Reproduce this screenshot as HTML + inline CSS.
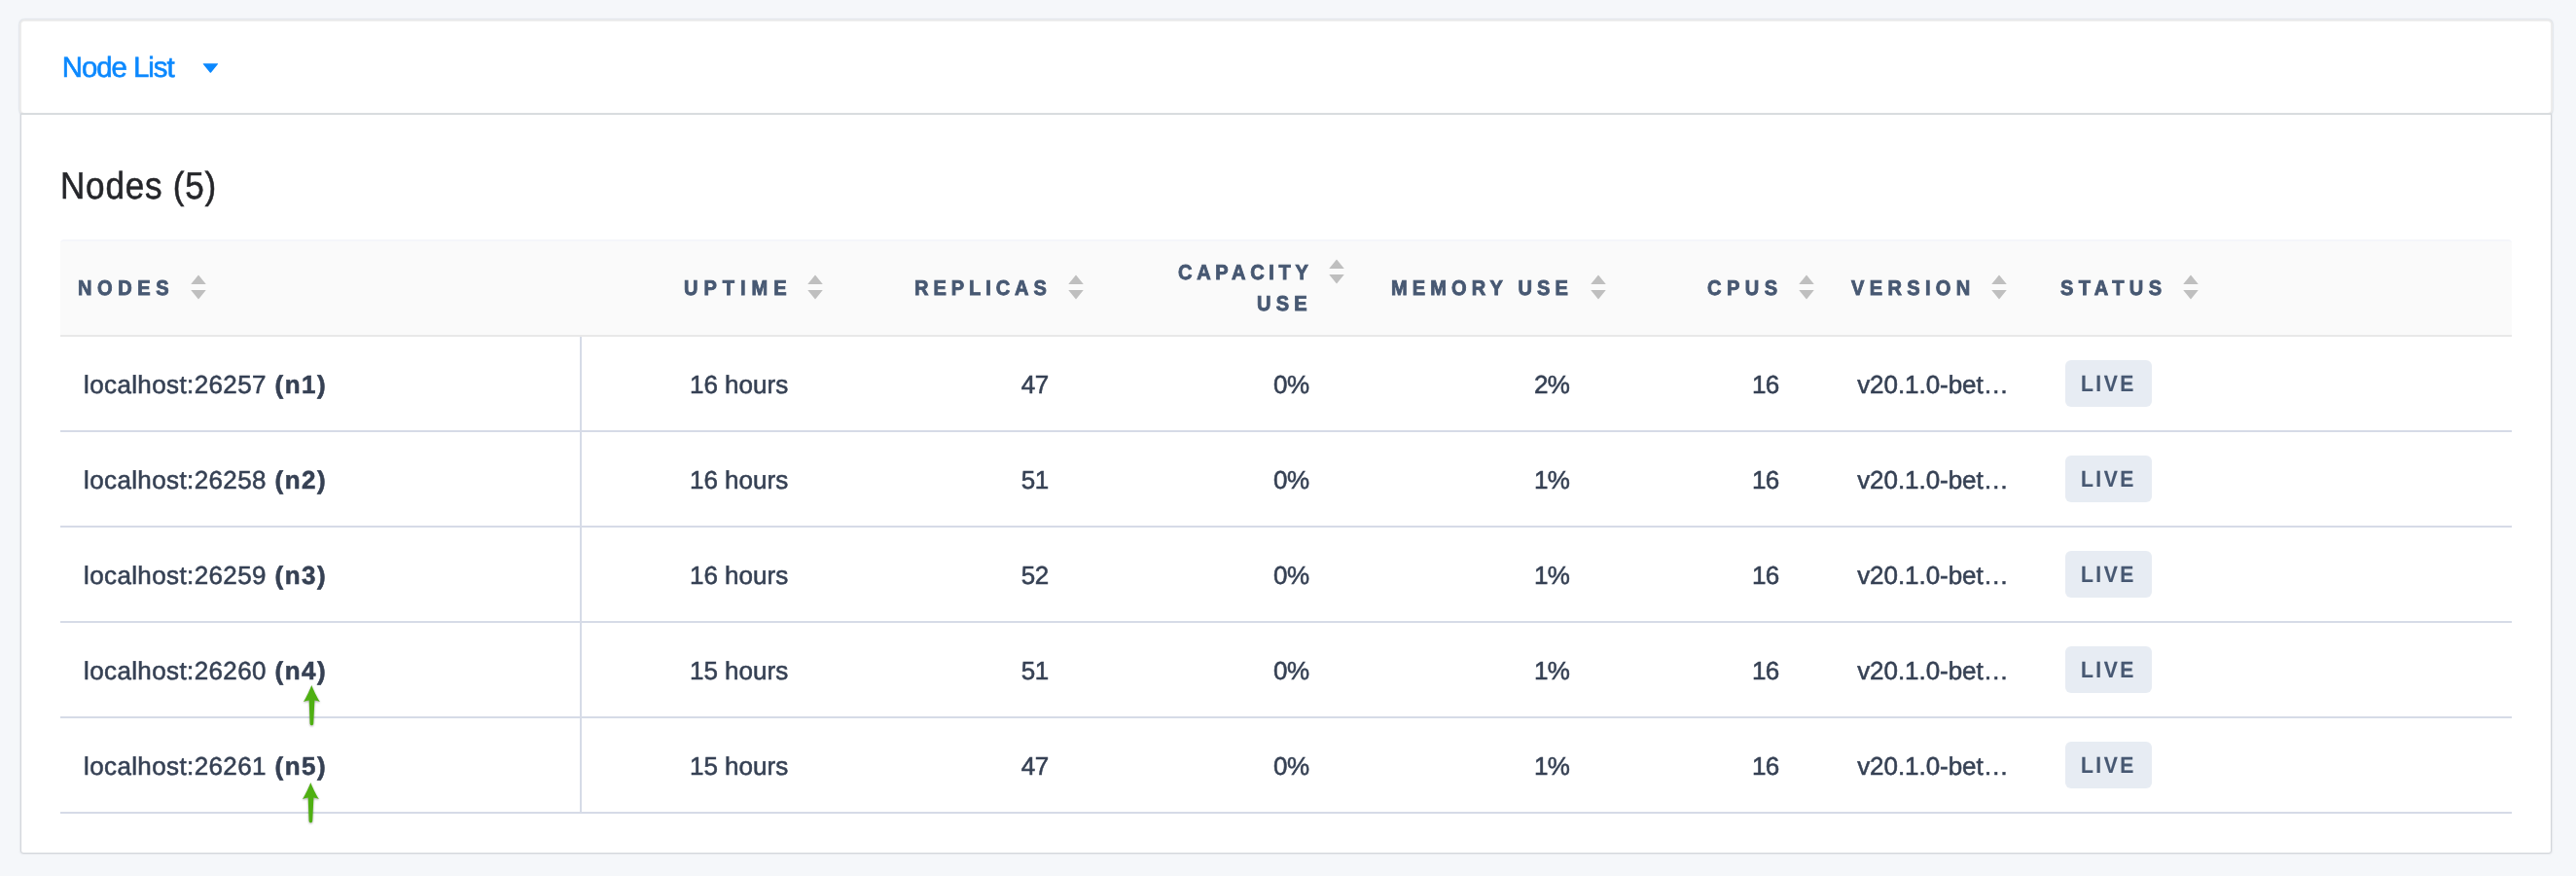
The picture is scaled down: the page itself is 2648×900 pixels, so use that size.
<!DOCTYPE html>
<html>
<head>
<meta charset="utf-8">
<title>Node List</title>
<style>
html,body{margin:0;padding:0;}
body{width:2648px;height:900px;background:#f5f7fa;position:relative;overflow:hidden;
  font-family:"Liberation Sans",sans-serif;}
.abs{position:absolute;white-space:nowrap;}
#wrap{position:absolute;left:0;top:0;width:2648px;height:900px;will-change:transform;text-rendering:geometricPrecision;}
#card1{position:absolute;left:20px;top:20px;width:2600px;height:94px;background:#fff;
  border:2px solid #ececec;border-radius:5px;box-shadow:0 0 2px 0 rgba(67,90,111,0.33);}
#card2{position:absolute;left:22px;top:118px;width:2600px;height:758px;background:#fff;
  border-radius:0 0 2px 2px;box-shadow:0 0 2px 1px rgba(75,82,92,0.27);}
#sep{position:absolute;left:22px;top:116px;width:2600px;height:2px;background:#d9dcdf;}
#nodelist{top:53px;font-size:29.4px;line-height:34px;color:#0b88fe;-webkit-text-stroke:0.6px #0b88fe;}
#title{top:170px;font-size:39px;line-height:44px;color:#25262a;-webkit-text-stroke:0.55px #25262a;transform:scaleX(0.9);transform-origin:0 50%;}
#thead{position:absolute;left:62px;top:246px;width:2520px;height:98px;background:#fafafa;
  border-top:2px solid #f5f6fa;box-sizing:border-box;border-radius:4px 4px 0 0;}
.hline{position:absolute;left:62px;width:2520px;height:2px;background:#d6dbe7;}
#hl0{top:344px;background:#e8e8e8;}
#vline{position:absolute;left:596px;top:346px;width:2px;height:490px;background:#d6dbe7;}
.th{font-weight:bold;font-size:22.0px;line-height:32px;color:#475872;-webkit-text-stroke:0.9px #475872;transform:scale(0.91,0.975);transform-origin:0 0;}
.td{font-size:26px;line-height:32px;color:#364154;-webkit-text-stroke:0.55px #364154;}
.td b{font-weight:bold;}
.live{font-size:23.4px;-webkit-text-stroke:0.15px #475872;transform:scaleX(0.9);transform-origin:0 50%;}
.badge{position:absolute;left:2123px;width:89px;height:48px;background:#e7ecf3;border-radius:6px;}
.sort{position:absolute;width:16px;height:25px;overflow:visible;}
.arrow{position:absolute;width:32px;height:52px;overflow:visible;filter:drop-shadow(0.5px 1px 0.8px rgba(0,0,0,0.35));}
</style>
</head>
<body>
<div id="wrap">
<div id="card1"></div>
<div id="card2"></div>
<div id="sep"></div>

<div id="nodelist" class="abs" style="left:63.83px;letter-spacing:-1.04px">Node List</div>
<svg class="abs" style="left:208px;top:65px" width="17" height="11" viewBox="0 0 17 11"><path d="M1.2 0.3 H15.6 Q16.6 0.3 15.9 1.1 L9 9.5 Q8.4 10.2 7.8 9.5 L0.9 1.1 Q0.2 0.3 1.2 0.3 Z" fill="#0b88fe"/></svg>

<div id="title" class="abs" style="left:62.00px;letter-spacing:0.84px">Nodes (5)</div>

<div id="thead"></div>
<div class="hline" id="hl0"></div>
<div class="hline" style="top:442px"></div>
<div class="hline" style="top:540px"></div>
<div class="hline" style="top:638px"></div>
<div class="hline" style="top:736px"></div>
<div class="hline" style="top:834px"></div>
<div id="vline"></div>

<!-- header -->
<div class="abs th" id="h_nodes" style="top:281px;left:80.00px;letter-spacing:6.13px">NODES</div>
<div class="abs th" id="h_uptime" style="top:281px;left:703.00px;letter-spacing:6.58px">UPTIME</div>
<div class="abs th" id="h_replicas" style="top:281px;left:940.00px;letter-spacing:5.44px">REPLICAS</div>
<div class="abs th" id="h_cap1" style="top:265px;left:1211.00px;letter-spacing:5.19px">CAPACITY</div>
<div class="abs th" id="h_cap2" style="top:297px;left:1292.00px;letter-spacing:5.80px">USE</div>
<div class="abs th" id="h_mem" style="top:281px;left:1430.00px;letter-spacing:5.63px">MEMORY USE</div>
<div class="abs th" id="h_cpus" style="top:281px;left:1755.00px;letter-spacing:6.06px">CPUS</div>
<div class="abs th" id="h_version" style="top:281px;left:1903.00px;letter-spacing:5.88px">VERSION</div>
<div class="abs th" id="h_status" style="top:281px;left:2118.00px;letter-spacing:5.92px">STATUS</div>

<svg class="sort" style="left:196px;top:283px" viewBox="0 0 16 25"><path d="M8 -0.5 L15.8 9 H0.2 Z M0.2 15.1 H15.8 L8 24.6 Z" fill="#bfbfbf"/></svg>
<svg class="sort" style="left:830px;top:283px" viewBox="0 0 16 25"><path d="M8 -0.5 L15.8 9 H0.2 Z M0.2 15.1 H15.8 L8 24.6 Z" fill="#bfbfbf"/></svg>
<svg class="sort" style="left:1098px;top:283px" viewBox="0 0 16 25"><path d="M8 -0.5 L15.8 9 H0.2 Z M0.2 15.1 H15.8 L8 24.6 Z" fill="#bfbfbf"/></svg>
<svg class="sort" style="left:1366px;top:267px" viewBox="0 0 16 25"><path d="M8 -0.5 L15.8 9 H0.2 Z M0.2 15.1 H15.8 L8 24.6 Z" fill="#bfbfbf"/></svg>
<svg class="sort" style="left:1635px;top:283px" viewBox="0 0 16 25"><path d="M8 -0.5 L15.8 9 H0.2 Z M0.2 15.1 H15.8 L8 24.6 Z" fill="#bfbfbf"/></svg>
<svg class="sort" style="left:1849px;top:283px" viewBox="0 0 16 25"><path d="M8 -0.5 L15.8 9 H0.2 Z M0.2 15.1 H15.8 L8 24.6 Z" fill="#bfbfbf"/></svg>
<svg class="sort" style="left:2047px;top:283px" viewBox="0 0 16 25"><path d="M8 -0.5 L15.8 9 H0.2 Z M0.2 15.1 H15.8 L8 24.6 Z" fill="#bfbfbf"/></svg>
<svg class="sort" style="left:2244px;top:283px" viewBox="0 0 16 25"><path d="M8 -0.5 L15.8 9 H0.2 Z M0.2 15.1 H15.8 L8 24.6 Z" fill="#bfbfbf"/></svg>

<!-- rows -->
<div class="abs td" id="r0_node" style="top:379px;left:86.00px;letter-spacing:0.38px">localhost:26257 <b style="letter-spacing:1.50px;margin-left:1.10px">(n1)</b></div>
<div class="abs td" id="r0_up" style="top:379px;left:708.94px;letter-spacing:0.01px">16 hours</div>
<div class="abs td" id="r0_rep" style="top:379px;left:1049.76px;letter-spacing:-0.39px">47</div>
<div class="abs td" id="r0_cap" style="top:379px;left:1308.96px;letter-spacing:-0.49px">0%</div>
<div class="abs td" id="r0_mem" style="top:379px;left:1576.99px;letter-spacing:-0.58px">2%</div>
<div class="abs td" id="r0_cpu" style="top:379px;left:1800.94px;letter-spacing:-0.72px">16</div>
<div class="abs td" id="r0_ver" style="top:379px;left:1909.17px;letter-spacing:-0.05px">v20.1.0-bet&hellip;</div>
<div class="badge" style="top:370px"></div>
<div class="abs th live" id="r0_live" style="top:378px;left:2139.00px;letter-spacing:2.77px">LIVE</div>
<div class="abs td" id="r1_node" style="top:477px;left:86.00px;letter-spacing:0.38px">localhost:26258 <b style="letter-spacing:1.50px;margin-left:1.10px">(n2)</b></div>
<div class="abs td" id="r1_up" style="top:477px;left:708.94px;letter-spacing:0.01px">16 hours</div>
<div class="abs td" id="r1_rep" style="top:477px;left:1049.76px;letter-spacing:-0.39px">51</div>
<div class="abs td" id="r1_cap" style="top:477px;left:1308.96px;letter-spacing:-0.49px">0%</div>
<div class="abs td" id="r1_mem" style="top:477px;left:1576.99px;letter-spacing:-0.58px">1%</div>
<div class="abs td" id="r1_cpu" style="top:477px;left:1800.94px;letter-spacing:-0.72px">16</div>
<div class="abs td" id="r1_ver" style="top:477px;left:1909.17px;letter-spacing:-0.05px">v20.1.0-bet&hellip;</div>
<div class="badge" style="top:468px"></div>
<div class="abs th live" id="r1_live" style="top:476px;left:2139.00px;letter-spacing:2.77px">LIVE</div>
<div class="abs td" id="r2_node" style="top:575px;left:86.00px;letter-spacing:0.38px">localhost:26259 <b style="letter-spacing:1.50px;margin-left:1.10px">(n3)</b></div>
<div class="abs td" id="r2_up" style="top:575px;left:708.94px;letter-spacing:0.01px">16 hours</div>
<div class="abs td" id="r2_rep" style="top:575px;left:1049.76px;letter-spacing:-0.39px">52</div>
<div class="abs td" id="r2_cap" style="top:575px;left:1308.96px;letter-spacing:-0.49px">0%</div>
<div class="abs td" id="r2_mem" style="top:575px;left:1576.99px;letter-spacing:-0.58px">1%</div>
<div class="abs td" id="r2_cpu" style="top:575px;left:1800.94px;letter-spacing:-0.72px">16</div>
<div class="abs td" id="r2_ver" style="top:575px;left:1909.17px;letter-spacing:-0.05px">v20.1.0-bet&hellip;</div>
<div class="badge" style="top:566px"></div>
<div class="abs th live" id="r2_live" style="top:574px;left:2139.00px;letter-spacing:2.77px">LIVE</div>
<div class="abs td" id="r3_node" style="top:673px;left:86.00px;letter-spacing:0.38px">localhost:26260 <b style="letter-spacing:1.50px;margin-left:1.10px">(n4)</b></div>
<div class="abs td" id="r3_up" style="top:673px;left:708.94px;letter-spacing:0.01px">15 hours</div>
<div class="abs td" id="r3_rep" style="top:673px;left:1049.76px;letter-spacing:-0.39px">51</div>
<div class="abs td" id="r3_cap" style="top:673px;left:1308.96px;letter-spacing:-0.49px">0%</div>
<div class="abs td" id="r3_mem" style="top:673px;left:1576.99px;letter-spacing:-0.58px">1%</div>
<div class="abs td" id="r3_cpu" style="top:673px;left:1800.94px;letter-spacing:-0.72px">16</div>
<div class="abs td" id="r3_ver" style="top:673px;left:1909.17px;letter-spacing:-0.05px">v20.1.0-bet&hellip;</div>
<div class="badge" style="top:664px"></div>
<div class="abs th live" id="r3_live" style="top:672px;left:2139.00px;letter-spacing:2.77px">LIVE</div>
<div class="abs td" id="r4_node" style="top:771px;left:86.00px;letter-spacing:0.38px">localhost:26261 <b style="letter-spacing:1.50px;margin-left:1.10px">(n5)</b></div>
<div class="abs td" id="r4_up" style="top:771px;left:708.94px;letter-spacing:0.01px">15 hours</div>
<div class="abs td" id="r4_rep" style="top:771px;left:1049.76px;letter-spacing:-0.39px">47</div>
<div class="abs td" id="r4_cap" style="top:771px;left:1308.96px;letter-spacing:-0.49px">0%</div>
<div class="abs td" id="r4_mem" style="top:771px;left:1576.99px;letter-spacing:-0.58px">1%</div>
<div class="abs td" id="r4_cpu" style="top:771px;left:1800.94px;letter-spacing:-0.72px">16</div>
<div class="abs td" id="r4_ver" style="top:771px;left:1909.17px;letter-spacing:-0.05px">v20.1.0-bet&hellip;</div>
<div class="badge" style="top:762px"></div>
<div class="abs th live" id="r4_live" style="top:770px;left:2139.00px;letter-spacing:2.77px">LIVE</div>
<svg class="arrow" style="left:304px;top:700px" viewBox="0 0 32 52"><path d="M16.3 4 C17.6 7.5 21.5 16 24.9 21.1 C22.8 20.2 21 19.6 19.4 19.4 L18.2 43.4 A1.8 1.8 0 0 1 14.6 43.4 L13.7 19.4 C12 19.6 10.2 20.2 8 21.1 C11.3 16 15 7.5 16.3 4 Z" fill="#4fb012"/></svg>
<svg class="arrow" style="left:303.1px;top:799.7px" viewBox="0 0 32 52"><path d="M16.3 4 C17.6 7.5 21.5 16 24.9 21.1 C22.8 20.2 21 19.6 19.4 19.4 L18.2 43.4 A1.8 1.8 0 0 1 14.6 43.4 L13.7 19.4 C12 19.6 10.2 20.2 8 21.1 C11.3 16 15 7.5 16.3 4 Z" fill="#4fb012"/></svg>
</div>
</body>
</html>
